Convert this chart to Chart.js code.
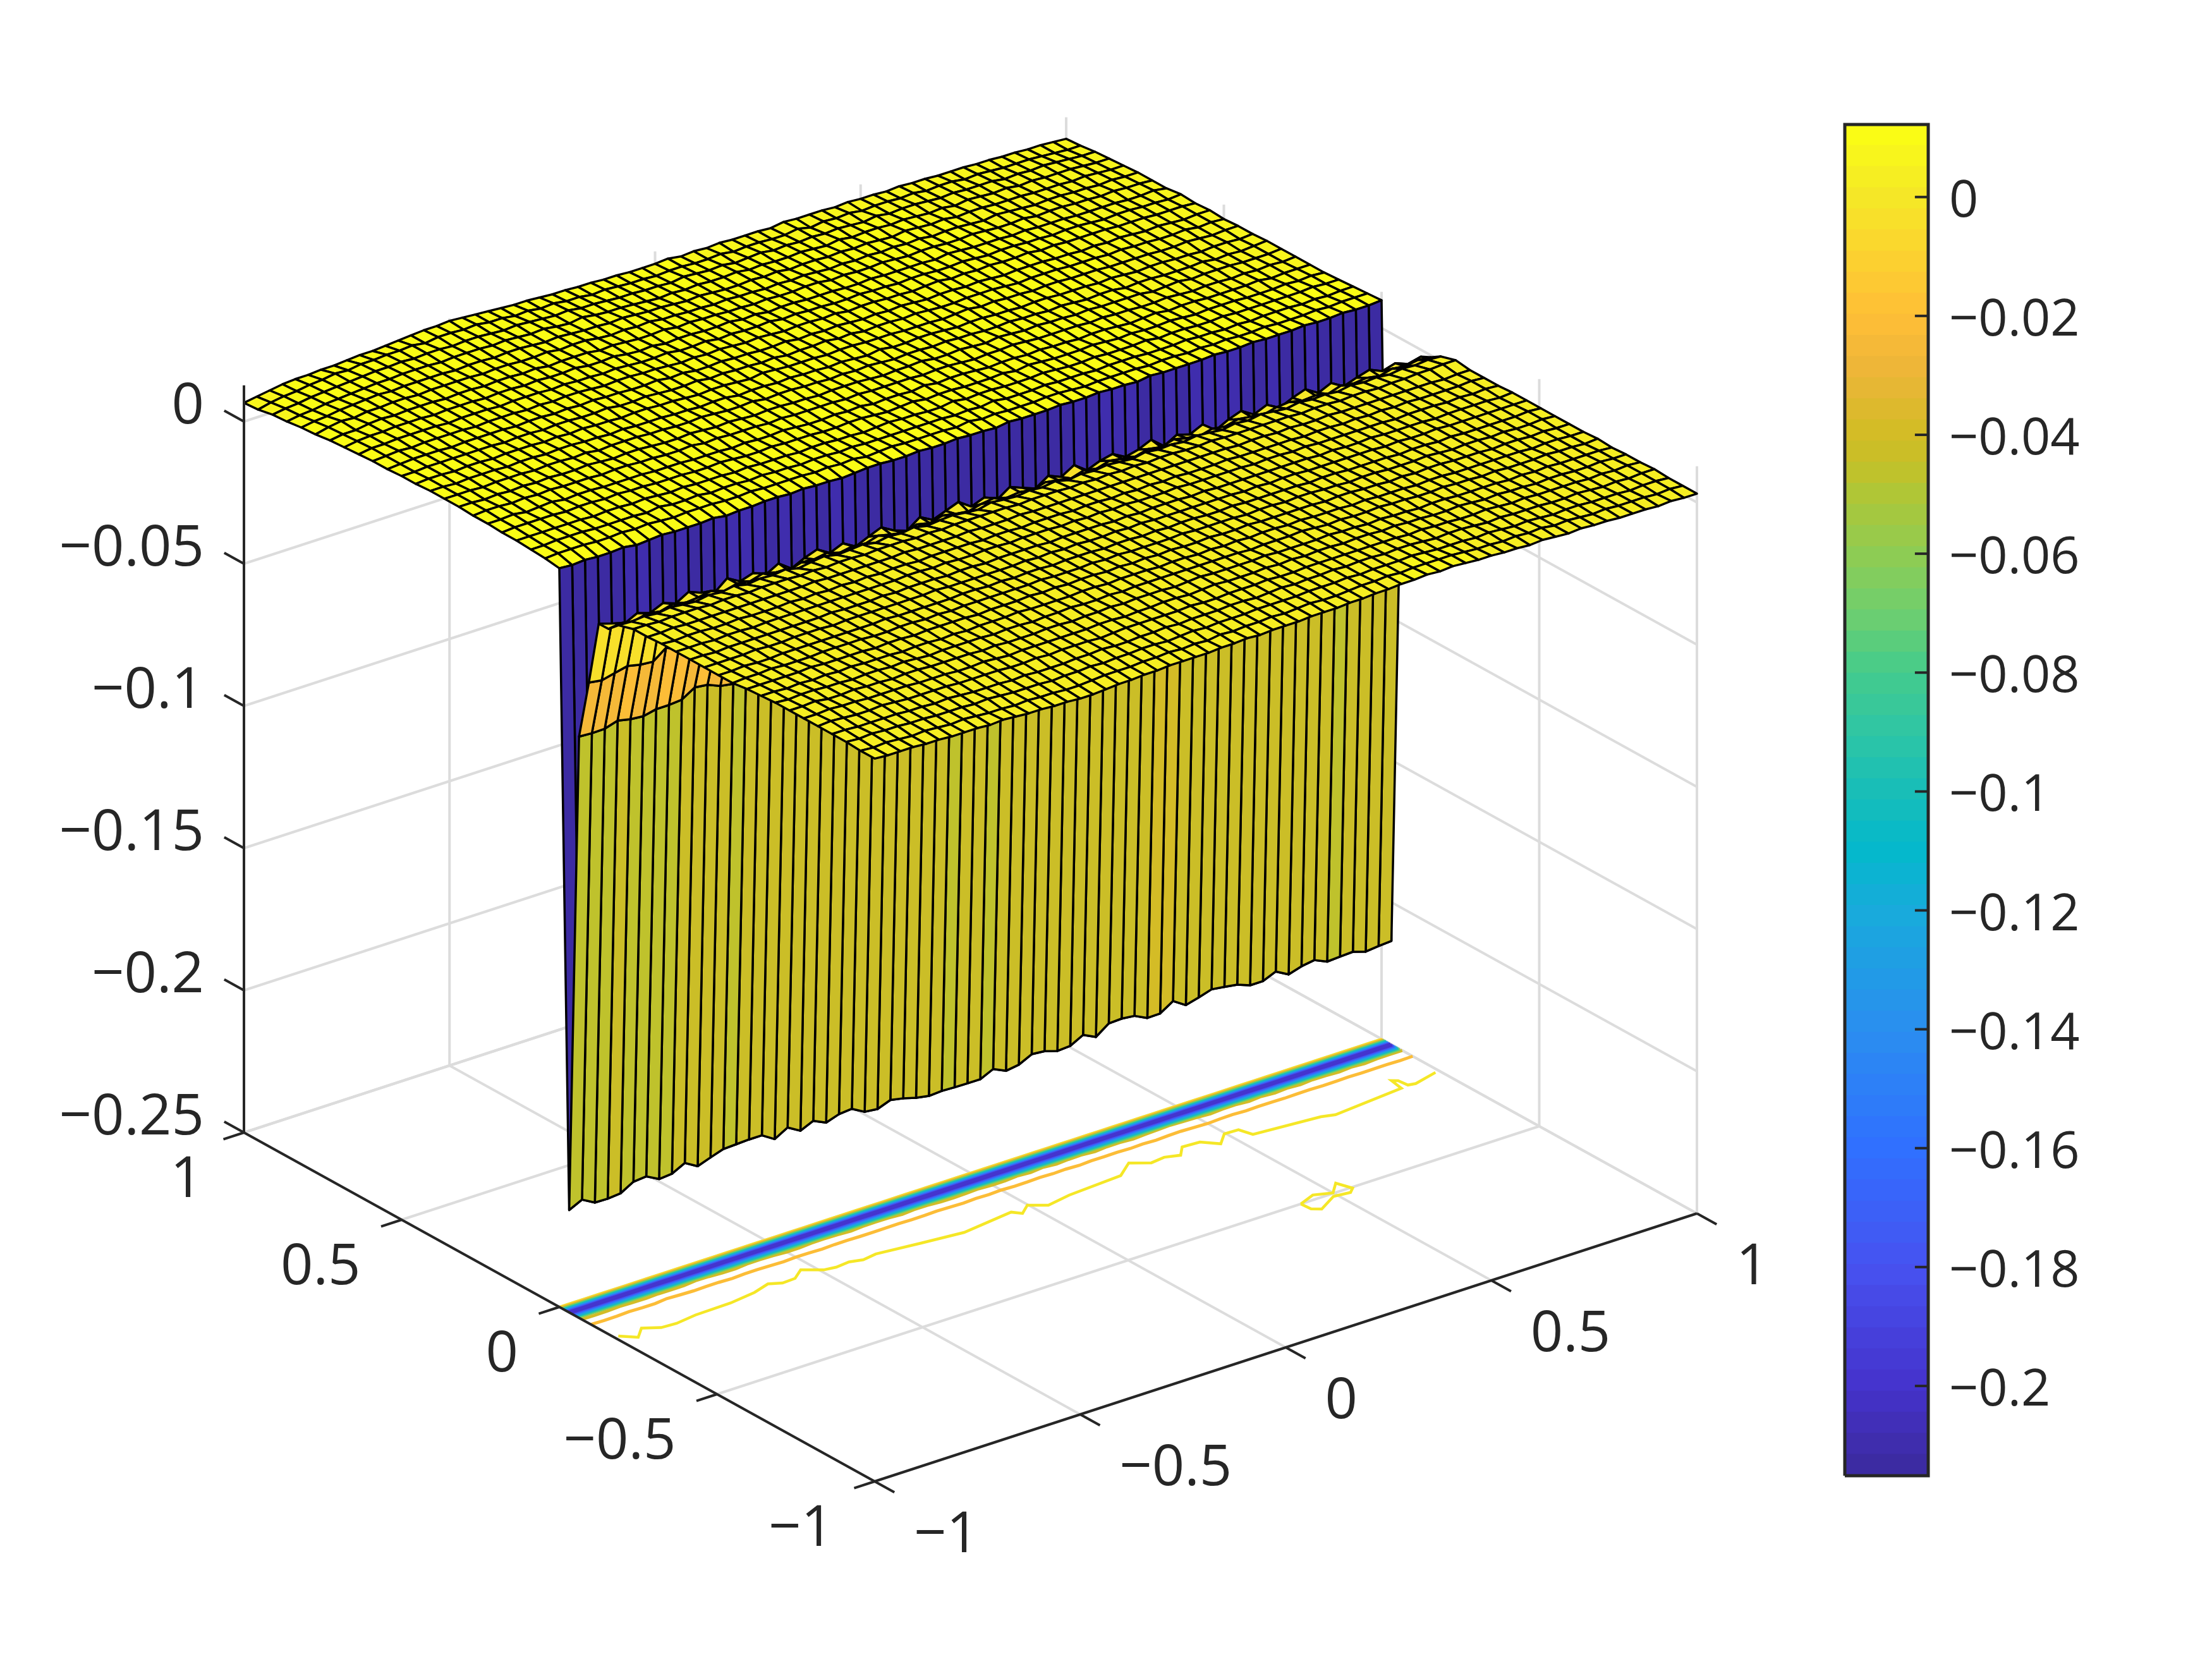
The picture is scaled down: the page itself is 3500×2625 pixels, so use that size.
<!DOCTYPE html>
<html>
<head>
<meta charset="utf-8">
<title>Surface with contour</title>
<script src="https://cdn.jsdelivr.net/npm/chart.js@4"></script>
<style>
  html, body { margin: 0; padding: 0; background: #fff; }
  #surfaceChart { position: absolute; left: 0; top: 0; }
  #colorbarChart { position: absolute; left: 2890px; top: 150px; }
</style>
</head>
<body>
<canvas id="surfaceChart" width="3500" height="2625"></canvas>
<canvas id="colorbarChart" width="610" height="2240"></canvas>
<script>
const xTicks = [-1, -0.5, 0, 0.5, 1];
const yTicks = [-1, -0.5, 0, 0.5, 1];
const zTicks = [-0.25, -0.2, -0.15, -0.1, -0.05, 0];
const zFloor = -0.25;
const zTop = 0.0127;

const colorbarTicks = [0, -0.02, -0.04, -0.06, -0.08, -0.1, -0.12, -0.14, -0.16, -0.18, -0.2];
const colorMin = -0.2151;
const colorMax = 0.0122;

const colormapValues = [0.0122, 0.006, 0, -0.01, -0.02, -0.03, -0.04, -0.045, -0.05, -0.06, -0.07, -0.08, -0.09, -0.1, -0.11, -0.12, -0.14, -0.16, -0.18, -0.2, -0.2151];
const colormapColors = ['#fbff12', '#f7f31e', '#f5e827', '#fcd22f', '#ffbe37', '#ebb538', '#d2bc25', '#c5c028', '#b0c636', '#8fcc52', '#6fcf6e', '#44cb8c', '#2fc6a4', '#18beb8', '#04b8cc', '#18abdb', '#2a8eef', '#3070ff', '#4752f0', '#4533cc', '#3b2a9c'];

// the mesh is finer in y around the trench
const yNodes = [-1, -0.955, -0.91, -0.865, -0.82, -0.775, -0.73, -0.685, -0.64, -0.595, -0.55, -0.505, -0.46, -0.415, -0.37, -0.325, -0.28, -0.235,
  -0.1875, -0.15625, -0.125, -0.09375, -0.0625, -0.03125,
  0, 0.045, 0.09, 0.136, 0.182, 0.227, 0.273, 0.318, 0.364, 0.409, 0.455, 0.5, 0.545, 0.591, 0.636, 0.682, 0.727, 0.773, 0.818, 0.864, 0.909, 0.955, 1];

// surface heights. terrace rows are one character per x node (base 36),
// height = 0.001 + value * 0.00035
const lowerTerraceRows = [
  '98887 76665 65443 32234 45566 66778 78889 99aab bccdc dcbba a9a98 98877 76766',
  '98987 87676 55454 43345 55667 67687 88989 a99ab bcbcc ccbaa 9a9a8 98787 77676',
  'a9a99 88777 67655 54556 56677 67878 88999 9aaab abbbc baaa9 a9898 78877 76776',
  'aa999 98878 76665 65556 67667 78788 89989 a9aab abbab ba9aa 98988 87787 67677',
  'aba99 a9888 87777 66767 77678 88889 88999 a99aa aaaaa a9a99 88987 87777 67676',
  'aabaa 99998 88778 76777 77788 78899 89a99 9a9a9 aa9aa 9a998 89878 77677 66766',
  'aab99 a9989 98888 78777 88788 98999 89a99 99a99 99a99 89887 88777 76767 66665',
  'a9aa9 98998 98788 88788 78898 89899 99999 99899 9a989 88988 77877 67666 76656',
  '99898 98988 87887 87888 98888 99899 98998 98989 98988 87877 76776 66666 56655',
  '88888 98888 78878 88878 88989 89989 89898 89889 88888 78877 67677 66656 65655',
  '67787 77888 87788 78788 88889 88898 98888 98888 78878 87767 76667 65665 65565',
  '66766 77777 77787 77778 87878 87888 78878 78877 87777 76776 66656 65655 55565',
  '66667 66777 67777 77787 77777 87878 77878 77777 77676 77666 66656 55655 55555',
  '66566 66666 67666 76777 67767 77767 77767 67776 76666 66665 65565 55545 55545',
  '66656 65666 66666 66677 67667 76777 67676 76667 66666 56656 55555 54555 45454',
  '65665 56555 65656 56566 56666 56656 66566 56565 65556 55555 45545 45454 44454',
  '55655 55555 55565 55555 65555 65556 55555 55555 55555 54554 54454 44444 44344',
  '55455 54554 55545 45545 55454 55555 45554 54545 45544 54444 44344 34434 45566'
];

const ridgeRow26 = [0.0012, 0.001, 0.0014, 0.0009, 0.0016, 0.0011, 0.0007, 0.0015, 0.001, 0.0018, 0.0008, 0.0014, 0.0011, 0.0017, 0.0006, 0.0013, 0.0019, 0.0009, 0.0012, 0.0016, 0.0007, 0.0015, 0.0011, 0.0018, 0.0008, 0.0013, 0.0016, 0.001, 0.0006, 0.0017, 0.0012, 0.0009, 0.0015, 0.0011, 0.0018, 0.0007, 0.0014, 0.001, 0.0016, 0.0012, 0.0008, 0.0017, 0.0011, 0.0014, 0.0009, 0.0016, 0.0012, 0.0007, 0.0015, 0.001, 0.0018, 0.0013, 0.0008, 0.0016, 0.0011, 0.0014, 0.0009, 0.0017, 0.0012, 0.0015, 0.001, 0.0016, 0.0013, 0.0018, 0.0015];
const ridgeRow27 = [-0.002, -0.0014, -0.0022, -0.001, -0.0018, -0.0006, -0.0016, -0.0012, -0.0004, -0.0019, -0.0008, -0.0015, -0.0002, -0.0013, -0.0021, -0.0007, -0.0011, -0.0003, -0.0017, -0.0009, -0.0014, -0.0001, -0.0012, -0.002, -0.0006, -0.0016, -0.0004, -0.0013, -0.0019, -0.0008, -0.0002, -0.0015, -0.001, -0.0018, -0.0005, -0.0012, -0.0021, -0.0007, -0.0016, -0.0003, -0.0011, -0.0018, -0.0006, -0.0014, -0.0001, -0.0012, -0.0019, -0.0008, -0.0015, -0.0004, -0.001, -0.0017, -0.0006, -0.0002, -0.0013, -0.0009, -0.0018, -0.0004, -0.0011, -0.0006, -0.0014, -0.0003, -0.0009, -0.0002, -0.0007];
const ridgeRow28 = [-0.0021, -0.0035, -0.005, -0.0028, -0.0042, -0.0022, -0.0038, -0.0012, -0.003, -0.0045, -0.0008, -0.0034, -0.002, -0.004, -0.0015, -0.0048, -0.0026, -0.001, -0.0037, -0.0018, -0.0044, -0.0024, -0.0006, -0.0032, -0.0047, -0.0014, -0.0039, -0.0022, -0.0005, -0.0036, -0.0019, -0.0042, -0.0011, -0.0029, -0.0046, -0.0016, -0.0035, -0.0008, -0.0041, -0.0023, -0.0013, -0.0038, -0.0027, -0.0007, -0.0044, -0.0019, -0.0033, -0.0012, -0.0048, -0.0025, -0.0009, -0.0036, -0.0017, -0.0042, -0.0022, -0.0006, -0.0034, -0.0014, -0.004, -0.0024, -0.0011, -0.0031, -0.0018, -0.0035, -0.0024];
const slopeRow29 = [-0.0247, -0.0254, -0.0243, -0.0233, -0.0243, -0.0247, -0.0213, -0.0232, -0.024, -0.0228, -0.0236, -0.0245, -0.023, -0.0226, -0.0238, -0.0241, -0.0229, -0.0235, -0.0244, -0.0231, -0.0224, -0.0237, -0.0242, -0.0233, -0.0227, -0.024, -0.0234, -0.0225, -0.0239, -0.0243, -0.023, -0.0236, -0.0228, -0.0241, -0.0233, -0.0226, -0.0238, -0.0232, -0.0244, -0.0229, -0.0235, -0.0224, -0.024, -0.0231, -0.0237, -0.0227, -0.0219, -0.0234, -0.0242, -0.023, -0.0225, -0.0238, -0.0233, -0.0228, -0.0241, -0.0235, -0.0226, -0.024, -0.0232, -0.0229, -0.0237, -0.0231, -0.0234, -0.0239, -0.0233];
const lipRow30 = [-0.0456, -0.0459, -0.0458, -0.0444, -0.0454, -0.0458, -0.0448, -0.0448, -0.0444, -0.0416, -0.0421, -0.044, -0.0447, -0.0418, -0.0415, -0.0422, -0.0446, -0.0442, -0.042, -0.0417, -0.0423, -0.0445, -0.0419, -0.0416, -0.0421, -0.0444, -0.0418, -0.042, -0.0445, -0.0448, -0.0441, -0.0424, -0.0447, -0.0443, -0.0419, -0.0445, -0.0412, -0.0446, -0.0421, -0.0418, -0.0444, -0.042, -0.0417, -0.0442, -0.0422, -0.041, -0.0395, -0.0412, -0.0418, -0.044, -0.0421, -0.0416, -0.0443, -0.0419, -0.0445, -0.0422, -0.0446, -0.0418, -0.0425, -0.0447, -0.0419, -0.0444, -0.042, -0.0416, -0.0418];
const trenchRow31 = [-0.214, -0.2118, -0.2143, -0.2144, -0.214, -0.2114, -0.211, -0.2134, -0.213, -0.2107, -0.2133, -0.2117, -0.2102, -0.21, -0.2098, -0.2098, -0.2126, -0.21, -0.2126, -0.2106, -0.2127, -0.2112, -0.2108, -0.2133, -0.2138, -0.2121, -0.213, -0.2143, -0.2151, -0.2148, -0.215, -0.2151, -0.2151, -0.213, -0.2151, -0.2144, -0.2122, -0.2126, -0.214, -0.2137, -0.2113, -0.2135, -0.2102, -0.21, -0.2105, -0.2127, -0.2126, -0.2097, -0.2126, -0.2114, -0.21, -0.2106, -0.2113, -0.213, -0.213, -0.2111, -0.2136, -0.2122, -0.2115, -0.2135, -0.2132, -0.213, -0.2144, -0.2139, -0.2136];

// listed from the back edge (y = 1) to the lip of the trench (y = 0)
const upperTerraceRows = [
  'gikmn noopq qrstu uvuts rqqpo onnmm lllmk lklkk kjlkk kjkjj ijiih hhggf feedc',
  'hkmnp qsrtt uuvtv vuvtt rsqrp pnonm mlmml lmkll kkmjl kljkk jkijj hihgg gfedd',
  'kmnpq rstuu vuvvu vvutu tsrsq qpoon nmonm nlmnl mlmlm lkmkl lkjkj jjhih ihgff',
  'lnoqr stuuv vvuvv vuvut usrtr qqpon ononn omnmm nmlnl mmlml kljlk jkiji iihgg',
  'npqst uvuvv vvuvv uvvut utssr srqqp oponn onomn nmnmn mlnml mkllk kkjjj ijihh',
  'ortsu uvvuv vvvuv vuuvt uusrs rsqqp popoo nonon mnmnm nmnlm mlkml kjkkj jijii',
  'qssuv uvvvu vvuvv uvtuu ustsr rsqrq qppop ooppn onnon mnnmm nmllm kllkk jkjji',
  'rtuuv vvuvv vuvvu vuuvt tusrs qrrqq rpqop pooon nonnn nmonm mmlml llkkk kjjki',
  'suuvv vvuvv vuvvv uvuut utsst rrsqr qqrpq ppoop oonoo nnonm nnmml mmlkl lkkjk',
  'tuvuv vvvuv vvuvu vvutu uttsr srsrq rqpqq pqopp oonop nonon nomnm mmmll lkkkj',
  'tuvvv uvvvv uvvuv uvuut tustr rsrrq qrpqp qpopo ponoo nonmn nnmml mlmlk lkjkk',
  'uuvvv vvvuv vuvvu uvttu tsstr srrqr pqqrp qoppo ponno oonmn nnmmm lmllk kljkj',
  'uvvuv vuvvv uvuvu utuut tsrss rqsrq qqpqq pppoo onopn onnmn nmmml lllkk lkjkk',
  'vvuvv vuvvu vvuut uttts srssq rrqrq qpqpo qoopp onoon nmnnm mmlml kllkk jkkjk',
  'vvvuv vvuvv uvtuu uttss tsrrs qrrqq pqpqp oppop oonno nnmnm lmmkl lkkkl jkjkl',
  'vvuvu vuvuu vutuu tssts rsrqr rqqpq qqpop pqoop onpon onnmn mmmmk lmkll lkkkl',
  'uvvuv uvuuu tuutt sstrs rrrqr qqqqp qpppp oppon oopon nnnmn mmllm lkllk lklkl',
  'uuvtu vtuut tttss srrrq rqqrq ppqpq oppoq oppon oonon nmnnm lmnlm mllll mklll',
  'tuuuu tuutu ttsss rrsrq qrqqq ppqqp opqop pooop nponn nonmn mmnml mmmll lmlml',
  'ttttt tstts tsrsr rrqrq qqpqq ppopq ppooq oppoo oponn onnno mnnmm nmmmm mmnmm',
  'ssttt ssssr trrsq rrqrq qpqqp qpppp pppop oqooo pooon ooonn nonnm nmnnn mnmnn',
  'rsssr rsrsr qrrrq qrqqq qpqpq opqpp ppoqo pooop ponoo oonoo nonon nonnn onooo',
  'popoo pnopo oopno oppop oonop poopo opoon pooop oopoo npooo opoop ooopo opoop'
];

// contour levels on the floor; the wandering zero line and its small loop are read directly
const contourLevels = [-0.2, -0.18, -0.16, -0.14, -0.12, -0.1, -0.08, -0.06, -0.04, -0.02, 0];
const zeroLineX = [-0.99, -0.963, -0.933, -0.901, -0.866, -0.814, -0.727, -0.661, -0.617, -0.592, -0.56, -0.528, -0.493, -0.466, -0.432, -0.404, -0.369, -0.27, -0.174, -0.046, -0.032, -0.002, 0.03, 0.09, 0.223, 0.27, 0.305, 0.34, 0.371, 0.396, 0.437, 0.464, 0.497, 0.53, 0.539, 0.692, 0.72, 0.894, 0.9, 0.91, 0.913, 0.929, 0.99];
const zeroLineY = [-0.174, -0.202, -0.173, -0.194, -0.197, -0.189, -0.187, -0.177, -0.162, -0.176, -0.174, -0.15, -0.177, -0.182, -0.178, -0.187, -0.181, -0.195, -0.207, -0.189, -0.207, -0.183, -0.208, -0.196, -0.186, -0.15, -0.176, -0.171, -0.183, -0.155, -0.158, -0.189, -0.157, -0.159, -0.193, -0.209, -0.219, -0.201, -0.162, -0.17, -0.197, -0.201, -0.184];
const zeroLoopX = [0.42, 0.463, 0.5, 0.531, 0.543, 0.528, 0.491, 0.438, 0.422, 0.42];
const zeroLoopY = [-0.5, -0.482, -0.498, -0.466, -0.504, -0.517, -0.511, -0.543, -0.53, -0.5];

const xNodeCount = 65;
const ridgeRowIndex = 20;
const trenchRowIndex = 23;
const camera = { originX: 1384, originY: 2344, xRun: 650.5, xRise: 212, yRun: 499, yRise: 276, zRise: 4500 };
const gridColor = '#dcdcdc';
const axisColor = '#262626';
const labelFont = '90px "Open Sans"';
const colorbarFont = '81px "Open Sans"';

// orthographic view of the plot box on to the flat page scales
function project(x, y, z) {
  const u = x + 1;
  const v = y + 1;
  return {
    x: camera.originX + camera.xRun * u - camera.yRun * v,
    y: camera.originY - camera.xRise * u - camera.yRise * v - camera.zRise * (z - zFloor)
  };
}

function decodeTerraceRow(row) {
  const chars = row.replace(/ /g, '');
  const heights = [];
  for (let i = 0; i < xNodeCount; i++) {
    heights.push(0.001 + parseInt(chars[i] ?? chars[chars.length - 1], 36) * 0.00035);
  }
  return heights;
}

const surfaceRows = [
  ...lowerTerraceRows.map(decodeTerraceRow),
  ridgeRow26, ridgeRow27, ridgeRow28, slopeRow29, lipRow30, trenchRow31,
  ...upperTerraceRows.slice().reverse().map(decodeTerraceRow)
];

const xNode = index => -1 + 2 * index / (xNodeCount - 1);

function hexToRgb(hex) {
  return [1, 3, 5].map(start => parseInt(hex.slice(start, start + 2), 16));
}

// colormap has 64 flat bands, like the colorbar
function colorAt(value) {
  for (let k = 0; k < colormapValues.length - 1; k++) {
    if (value <= colormapValues[k] && value >= colormapValues[k + 1]) {
      const t = (colormapValues[k] - value) / (colormapValues[k] - colormapValues[k + 1]);
      const a = hexToRgb(colormapColors[k]);
      const b = hexToRgb(colormapColors[k + 1]);
      return `rgb(${a.map((c, n) => Math.round(c + (b[n] - c) * t)).join(',')})`;
    }
  }
  return value > colorMax ? colormapColors[0] : colormapColors[colormapColors.length - 1];
}

const bandCount = 64;
const bandHeight = (colorMax - colorMin) / bandCount;
const bandColors = [];
for (let k = 0; k < bandCount; k++) {
  bandColors.push(colorAt(colorMin + (k + 0.5) * bandHeight));
}

function bandColor(value) {
  const k = Math.floor((value - colorMin) / bandHeight);
  return bandColors[Math.max(0, Math.min(bandCount - 1, k))];
}

// one dataset holds all nodes; facets are painted far corner first
class SurfaceController extends Chart.ScatterController {
  draw() {
    const ctx = this.chart.ctx;
    const points = this._cachedMeta.data;
    const dataset = this.getDataset();
    const nx = dataset.columns;
    const ny = dataset.rows;
    ctx.save();
    ctx.lineJoin = 'round';
    ctx.lineWidth = dataset.edgeWidth;
    ctx.strokeStyle = dataset.edgeColor;
    for (let j = ny - 2; j >= 0; j--) {
      for (let i = nx - 2; i >= 0; i--) {
        const a = points[j * nx + i];
        const b = points[j * nx + i + 1];
        const c = points[(j + 1) * nx + i + 1];
        const d = points[(j + 1) * nx + i];
        ctx.beginPath();
        ctx.moveTo(a.x, a.y);
        ctx.lineTo(b.x, b.y);
        ctx.lineTo(c.x, c.y);
        ctx.lineTo(d.x, d.y);
        ctx.closePath();
        ctx.fillStyle = dataset.facetColors[j * nx + i];
        ctx.fill();
        ctx.stroke();
      }
    }
    ctx.restore();
  }
}
SurfaceController.id = 'surface';
SurfaceController.defaults = { datasetElementType: false, dataElementType: 'point', showLine: false };
Chart.register(SurfaceController);

function lineDataset(label, points, color, width) {
  return {
    label,
    type: 'scatter',
    showLine: true,
    data: points,
    borderColor: color,
    borderWidth: width,
    pointRadius: 0,
    borderCapStyle: 'butt',
    fill: false
  };
}

function segment(label, from, to, color, width) {
  return lineDataset(label, [project(...from), project(...to)], color, width);
}

function buildSurfaceDataset() {
  const data = [];
  const facetColors = [];
  surfaceRows.forEach((row, j) => {
    row.forEach((z, i) => {
      data.push(project(xNode(i), yNodes[j], z));
      facetColors.push(bandColor(z));
    });
  });
  return {
    label: 'surface',
    type: 'surface',
    data,
    facetColors,
    columns: xNodeCount,
    rows: yNodes.length,
    edgeColor: '#000000',
    edgeWidth: 3.5,
    pointRadius: 0
  };
}

// walks along each column and finds where the height crosses the level
function contourPoints(level, firstRow, lastRow) {
  const points = [];
  for (let i = 0; i < xNodeCount; i++) {
    for (let j = firstRow; j < lastRow; j++) {
      const z0 = surfaceRows[j][i];
      const z1 = surfaceRows[j + 1][i];
      if ((z0 - level) * (z1 - level) <= 0 && z0 !== z1) {
        const t = (level - z0) / (z1 - z0);
        points.push(project(xNode(i), yNodes[j] + t * (yNodes[j + 1] - yNodes[j]), zFloor));
        break;
      }
    }
  }
  return points;
}

function buildContourDatasets() {
  const sets = [];
  for (const level of contourLevels) {
    const color = bandColor(level);
    const upper = contourPoints(level, trenchRowIndex, trenchRowIndex + 1);
    const lower = contourPoints(level, ridgeRowIndex, trenchRowIndex);
    if (upper.length) sets.push(lineDataset(`contour ${level} upper`, upper, color, 5));
    if (lower.length) sets.push(lineDataset(`contour ${level} lower`, lower, color, 5));
  }
  const zeroColor = bandColor(0);
  sets.push(lineDataset('contour 0 line', zeroLineX.map((x, k) => project(x, zeroLineY[k], zFloor)), zeroColor, 4.5));
  sets.push(lineDataset('contour 0 loop', zeroLoopX.map((x, k) => project(x, zeroLoopY[k], zFloor)), zeroColor, 4.5));
  return sets;
}

function buildAxisDatasets() {
  const sets = [];
  sets.push(segment('x axis', [-1, -1, zFloor], [1, -1, zFloor], axisColor, 4));
  sets.push(segment('y axis', [-1, -1, zFloor], [-1, 1, zFloor], axisColor, 4));
  sets.push(segment('z axis', [-1, 1, zFloor], [-1, 1, zTop], axisColor, 4));
  for (const x of xTicks) {
    sets.push(segment(`x tick ${x}`, [x, -1, zFloor], [x, -1.0625, zFloor], axisColor, 4));
  }
  for (const y of yTicks) {
    sets.push(segment(`y tick ${y}`, [-1, y, zFloor], [-1.05, y, zFloor], axisColor, 4));
  }
  for (const z of zTicks) {
    sets.push(segment(`z tick ${z}`, [-1, 1, z], [-1, 1.0625, z], axisColor, 4));
  }
  return sets;
}

function buildGridDatasets() {
  const sets = [];
  for (const x of xTicks) {
    sets.push(segment(`floor x ${x}`, [x, -1, zFloor], [x, 1, zFloor], gridColor, 4));
    sets.push(segment(`back x ${x}`, [x, 1, zFloor], [x, 1, zTop], gridColor, 4));
  }
  for (const y of yTicks) {
    sets.push(segment(`floor y ${y}`, [-1, y, zFloor], [1, y, zFloor], gridColor, 4));
    sets.push(segment(`side y ${y}`, [1, y, zFloor], [1, y, zTop], gridColor, 4));
  }
  for (const z of zTicks) {
    sets.push(segment(`back z ${z}`, [-1, 1, z], [1, 1, z], gridColor, 4));
    sets.push(segment(`side z ${z}`, [1, 1, z], [1, -1, z], gridColor, 4));
  }
  return sets;
}

function tickText(value) {
  return value < 0 ? `\u2212${Math.abs(value)}` : `${value}`;
}

const tickLabelPlugin = {
  id: 'tickLabels',
  afterDraw(chart) {
    const { ctx, scales } = chart;
    const put = (value, point, align, dx, dy) => {
      ctx.textAlign = align;
      ctx.fillText(tickText(value), scales.x.getPixelForValue(point.x) + dx, scales.y.getPixelForValue(point.y) + dy);
    };
    ctx.save();
    ctx.font = labelFont;
    ctx.fillStyle = axisColor;
    ctx.textBaseline = 'middle';
    for (const z of zTicks) put(z, project(-1, 1, z), 'right', -63, -23);
    for (const y of yTicks) put(y, project(-1, y, zFloor), 'right', -65, 76);
    for (const x of xTicks) put(x, project(x, -1, zFloor), 'left', 62, 86);
    ctx.restore();
  }
};

new Chart(document.getElementById('surfaceChart'), {
  type: 'scatter',
  data: {
    datasets: [
      ...buildAxisDatasets(),
      buildSurfaceDataset(),
      ...buildContourDatasets(),
      ...buildGridDatasets()
    ]
  },
  options: {
    responsive: false,
    animation: false,
    devicePixelRatio: 1,
    events: [],
    layout: { padding: 0 },
    plugins: { legend: { display: false }, tooltip: { enabled: false } },
    scales: {
      x: { type: 'linear', min: 0, max: 3500, display: false },
      y: { type: 'linear', min: 0, max: 2625, reverse: true, display: false }
    }
  },
  plugins: [tickLabelPlugin]
});

const colorbarBands = bandColors.map((color, k) => ({
  type: 'bar',
  label: `band ${k}`,
  data: [[colorMin + k * bandHeight, colorMin + (k + 1) * bandHeight]],
  backgroundColor: color,
  grouped: false,
  barPercentage: 1,
  categoryPercentage: 1,
  inflateAmount: 1,
  xAxisID: 'x',
  order: 2
}));

const colorbarOutline = [
  { x: 0, y: colorMin }, { x: 0, y: colorMax }, { x: 1, y: colorMax }, { x: 1, y: colorMin }, { x: 0, y: colorMin }
];

function colorbarLine(label, points, width) {
  return {
    type: 'scatter',
    label,
    showLine: true,
    data: points,
    borderColor: axisColor,
    borderWidth: width,
    pointRadius: 0,
    xAxisID: 'xMark',
    order: 1,
    clip: false
  };
}

const colorbarLabelPlugin = {
  id: 'colorbarLabels',
  afterDraw(chart) {
    const { ctx, scales, chartArea } = chart;
    ctx.save();
    ctx.font = colorbarFont;
    ctx.fillStyle = axisColor;
    ctx.textAlign = 'left';
    ctx.textBaseline = 'middle';
    for (const v of colorbarTicks) {
      ctx.fillText(tickText(v), chartArea.right + 33, scales.y.getPixelForValue(v) + 8);
    }
    ctx.restore();
  }
};

new Chart(document.getElementById('colorbarChart'), {
  type: 'bar',
  data: {
    labels: ['colorbar'],
    datasets: [
      colorbarLine('box', colorbarOutline, 5),
      ...colorbarTicks.map(v => colorbarLine(`tick ${v}`, [{ x: 0.84, y: v }, { x: 1, y: v }], 4)),
      ...colorbarBands
    ]
  },
  options: {
    responsive: false,
    animation: false,
    devicePixelRatio: 1,
    events: [],
    layout: { padding: { left: 29, top: 47, bottom: 55, right: 0 } },
    plugins: { legend: { display: false }, tooltip: { enabled: false } },
    scales: {
      x: { type: 'category', display: false },
      xMark: { type: 'linear', min: 0, max: 1, display: false, offset: false },
      y: {
        type: 'linear',
        position: 'right',
        min: colorMin,
        max: colorMax,
        grid: { display: false },
        border: { display: false },
        afterBuildTicks: scale => { scale.ticks = colorbarTicks.map(value => ({ value })); },
        afterFit: scale => {
          scale.width = 449;
          scale.paddingTop = 0;
          scale.paddingBottom = 0;
        },
        ticks: { display: false }
      }
    }
  },
  plugins: [colorbarLabelPlugin]
});
</script>
</body>
</html>
